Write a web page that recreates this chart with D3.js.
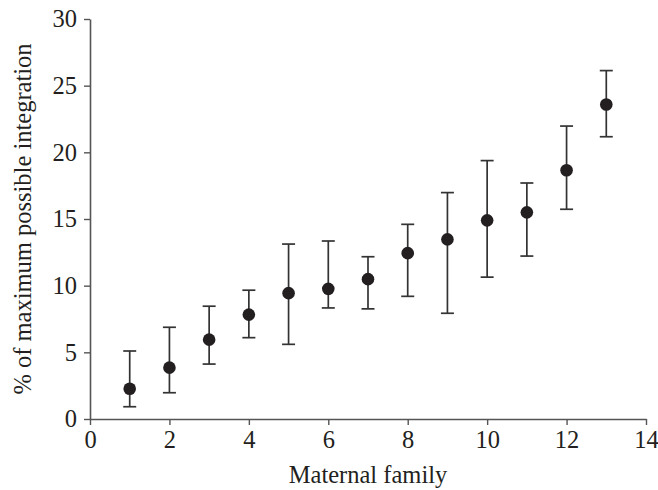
<!DOCTYPE html>
<html>
<head>
<meta charset="utf-8">
<script src="https://cdn.jsdelivr.net/npm/d3@7"></script>
<style>
  html, body { margin: 0; padding: 0; background: #fff; }
  svg { display: block; }
  svg text { font-family: "Liberation Serif", "Times New Roman", Times, serif !important; fill: #231f20; }
</style>
</head>
<body>
<svg id="chart" width="658" height="490"></svg>
<script>
// Integration (% of maximum possible) per maternal family, mean with error range
const families = [1, 2, 3, 4, 5, 6, 7, 8, 9, 10, 11, 12, 13];
const means    = [2.27, 3.85, 5.95, 7.83, 9.44, 9.76, 10.49, 12.44, 13.47, 14.9, 15.5, 18.66, 23.59];
const upper    = [5.1, 6.88, 8.46, 9.66, 13.12, 13.35, 12.17, 14.6, 16.98, 19.38, 17.7, 21.97, 26.13];
const lower    = [0.92, 1.97, 4.12, 6.1, 5.6, 8.33, 8.26, 9.2, 7.93, 10.64, 12.22, 15.73, 21.17];
const xTicks   = [0, 2, 4, 6, 8, 10, 12, 14];
const yTicks   = [0, 5, 10, 15, 20, 25, 30];

const svg = d3.select("#chart");
const margin = { left: 90, right: 12, top: 19, bottom: 71 };
const W = 658, H = 490;
const fontSize = 24.5;
const serif = "'Liberation Serif', 'Times New Roman', Times, serif";

const x = d3.scaleLinear().domain([0, 14]).range([margin.left, W - margin.right]);
const y = d3.scaleLinear().domain([0, 30]).range([H - margin.bottom, margin.top]);

const axisColor = "#555";
const inkColor = "#231f20";

// Axes
const gx = svg.append("g")
  .attr("transform", `translate(0,${y(0)})`)
  .call(d3.axisBottom(x).tickValues(xTicks).tickSize(6).tickPadding(6).tickSizeOuter(0));
const gy = svg.append("g")
  .attr("transform", `translate(${x(0)},0)`)
  .call(d3.axisLeft(y).tickValues(yTicks).tickSize(6).tickPadding(7).tickSizeOuter(0));

[gx, gy].forEach(g => {
  g.attr("font-family", serif).attr("font-size", fontSize);
  g.select(".domain").attr("stroke", axisColor).attr("stroke-width", 1.6);
  g.selectAll(".tick line").attr("stroke", axisColor).attr("stroke-width", 1.4);
  g.selectAll(".tick text")
    .attr("font-family", serif)
    .attr("font-size", fontSize)
    .attr("fill", inkColor);
});

// Axis titles
svg.append("text")
  .attr("x", (x(0) + x(14)) / 2)
  .attr("y", 483)
  .attr("text-anchor", "middle")
  .attr("font-family", serif)
  .attr("font-size", fontSize)
  .text("Maternal family");

svg.append("text")
  .attr("transform", `translate(31,${(y(0) + y(30)) / 2}) rotate(-90)`)
  .attr("text-anchor", "middle")
  .attr("font-family", serif)
  .attr("font-size", fontSize)
  .text("% of maximum possible integration");

// Error bars
const data = families.map((f, i) => ({ f, m: means[i], hi: upper[i], lo: lower[i] }));
const capHalf = 6.5;
const bars = svg.append("g")
  .attr("stroke", "#333")
  .attr("stroke-width", 1.7)
  .attr("fill", "none");

const eb = bars.selectAll("g").data(data).join("g");
eb.append("line")
  .attr("x1", d => x(d.f)).attr("x2", d => x(d.f))
  .attr("y1", d => y(d.lo)).attr("y2", d => y(d.hi));
eb.append("line")
  .attr("x1", d => x(d.f) - capHalf).attr("x2", d => x(d.f) + capHalf)
  .attr("y1", d => y(d.hi)).attr("y2", d => y(d.hi));
eb.append("line")
  .attr("x1", d => x(d.f) - capHalf).attr("x2", d => x(d.f) + capHalf)
  .attr("y1", d => y(d.lo)).attr("y2", d => y(d.lo));

// Means
svg.append("g")
  .selectAll("circle")
  .data(data)
  .join("circle")
  .attr("cx", d => x(d.f))
  .attr("cy", d => y(d.m))
  .attr("r", 6.3)
  .attr("fill", inkColor);
</script>
</body>
</html>
